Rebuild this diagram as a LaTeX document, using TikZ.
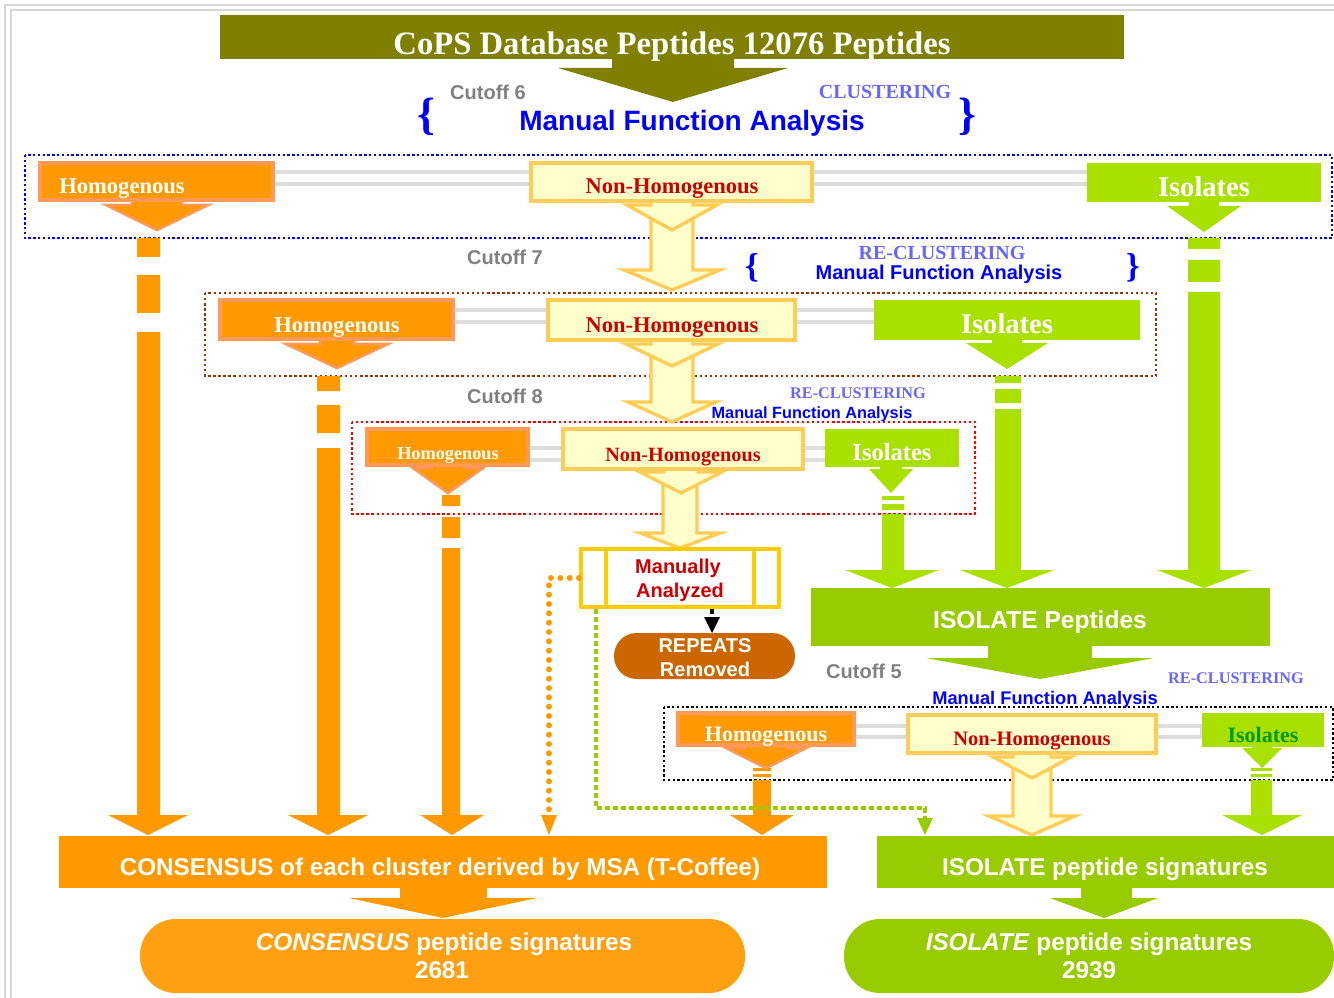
\documentclass[tikz,border=0pt]{standalone}
\usepackage{fontspec}
\setmainfont{Liberation Serif}
\setsansfont{Liberation Sans}
\usetikzlibrary{fit,arrows.meta}
\definecolor{oliveT}{HTML}{808000}
\definecolor{orangeF}{HTML}{FF9900}
\definecolor{orangeP}{HTML}{FFA012}
\definecolor{salmonB}{HTML}{FF9955}
\definecolor{nhFill}{HTML}{FFFFCC}
\definecolor{nhBorder}{HTML}{FFCC55}
\definecolor{nhRed}{HTML}{CC0000}
\definecolor{isoG}{HTML}{AAE000}
\definecolor{isoD}{HTML}{99CC00}
\definecolor{isoText}{HTML}{009900}
\definecolor{cutGray}{HTML}{808080}
\definecolor{reBlue}{HTML}{6666FF}
\definecolor{mfBlue}{HTML}{0000FF}
\definecolor{connGray}{HTML}{DDDDDD}
\definecolor{repBrown}{HTML}{CC6600}
\definecolor{manBorder}{HTML}{FFCC00}
\definecolor{brownDot}{HTML}{993300}
\definecolor{frameGray}{HTML}{D6D6D6}
\newcommand\fs[1]{\fontsize{#1}{#1}\selectfont}
% block arrow: style, xc, ytop, halfshaft, yhead, halfhead, ytip
\newcommand\barrow[7]{\path[#1] ({#2-#4},#3) -- ({#2-#4},#5) -- ({#2-#6},#5) -- (#2,#7) -- ({#2+#6},#5) -- ({#2+#4},#5) -- ({#2+#4},#3) -- cycle;}
% arrow head: style, xc, halfwidth, ybase, ytip
\newcommand\ahead[5]{\path[#1] ({#2-#3},#4) -- ({#2+#3},#4) -- (#2,#5) -- cycle;}
\tikzset{
 obox/.style={fill=orangeF, draw=salmonB, line width=2.5pt, inner sep=0pt},
 nbox/.style={fill=nhFill, draw=nhBorder, line width=3pt, inner sep=0pt},
 ibox/.style={fill=isoG, inner sep=0pt},
 conn/.style={fill=white, draw=connGray, line width=2.5pt},
 oarr/.style={fill=orangeF, draw=salmonB, line width=2pt},
 narr/.style={fill=nhFill, draw=nhBorder, line width=2.5pt},
 iarr/.style={fill=isoG},
 ofill/.style={fill=orangeF},
 lab/.style={inner sep=0pt, anchor=base},
 serw/.style={lab, text=white},
 serr/.style={lab, text=nhRed},
 sanw/.style={lab, text=white},
 cutlab/.style={lab, text=cutGray, font=\sffamily\bfseries\fs{15}},
 relab/.style={lab, text=reBlue},
 mflab/.style={lab, text=mfBlue},
 brace/.style={text=mfBlue, font=\rmfamily\bfseries\fs{34}, inner sep=0pt},
 odot/.style={draw=orangeF, line width=4.5pt, line cap=round, dash pattern=on 0pt off 7pt},
 gdot/.style={draw=isoD, line width=3pt, dash pattern=on 3.5pt off 2.5pt},
}
\begin{document}
\begin{tikzpicture}[x=0.75pt,y=-0.75pt]
\useasboundingbox (0,0) rectangle (1334,998);
% frame
\draw[frameGray, line width=1pt] (5,998) -- (5,5) -- (1334,5);
\draw[frameGray, line width=1pt] (11,998) -- (11,10) -- (1334,10);

% ---------- title ----------
\node[fill=oliveT, inner sep=0pt, fit={(220,15) (1124,59)}] (title) {};
\path[fill=oliveT] (612,58) rectangle (734,69);
\ahead{fill=oliveT}{673}{115}{68}{102}
\node[serw, font=\rmfamily\bfseries\fs{24.5}] (titletxt) at (672,55) {CoPS Database Peptides 12076 Peptides};

\node[cutlab] (cut6) at (488,100) {Cutoff 6};
\node[relab, font=\rmfamily\bfseries\fs{15}] (clu) at (885,99) {CLUSTERING};
\node[mflab, font=\sffamily\bfseries\fs{21}] (mfa1) at (692,131) {Manual Function Analysis};
\node[brace] (br1l) at (426,117) {\{};
\node[brace] (br1r) at (967,117) {\}};

% ---------- dotted frames ----------
\draw[mfBlue, line width=1.8pt, dash pattern=on 1.8pt off 1.8pt] (25,155) rectangle (1332,238);
\draw[brownDot, line width=1.8pt, dash pattern=on 1.8pt off 2pt] (205,293) rectangle (1156,376);
\draw[red, line width=1.8pt, dash pattern=on 1.8pt off 2pt] (352,422) rectangle (975,514);
\draw[black, line width=1.8pt, dash pattern=on 1.8pt off 1.8pt] (664,707) rectangle (1333,780);

% ---------- vertical bars ----------
\path[ofill] (137,238) rectangle (160,257) (137,275) rectangle (160,313) (137,332) rectangle (160,816);
\ahead{ofill}{148}{40}{815}{835}
\path[ofill] (317,376) rectangle (340,391) (317,405) rectangle (340,433) (317,448) rectangle (340,816);
\ahead{ofill}{328}{40}{815}{835}
\path[ofill] (442,495) rectangle (460,506) (442,517) rectangle (460,538) (442,548) rectangle (460,816);
\ahead{ofill}{452}{32}{815}{835}
\path[ofill] (753,768) rectangle (771,771) (753,774) rectangle (771,777) (753,780) rectangle (771,816);
\ahead{ofill}{762}{32}{815}{835}
\path[iarr] (1188,238) rectangle (1220,249) (1188,260) rectangle (1220,282) (1188,292) rectangle (1220,571);
\ahead{iarr}{1204}{47}{570}{588}
\path[iarr] (995,376) rectangle (1021,383) (995,389) rectangle (1021,403) (995,409) rectangle (1021,571);
\ahead{iarr}{1007}{47}{570}{588}
\path[iarr] (882,496) rectangle (904,500) (882,504) rectangle (904,510) (882,514) rectangle (904,571);
\ahead{iarr}{892}{47}{570}{588}
\path[iarr] (1251,768) rectangle (1272,771) (1251,774) rectangle (1272,777) (1251,780) rectangle (1272,816);
\ahead{iarr}{1262}{40}{815}{835}

% ---------- non-homogenous hollow arrows ----------
\barrow{narr}{672}{201}{21}{270}{48}{290}
\barrow{narr}{672}{199}{21}{205}{45}{230}
\barrow{narr}{672}{340}{21}{402}{44}{422}
\barrow{narr}{672}{338}{21}{344}{46}{366}
\barrow{narr}{680}{469}{17}{533}{40}{548}
\barrow{narr}{681}{467}{17}{472}{41}{493}
\barrow{narr}{1032}{753}{19}{816}{43}{835}
\barrow{narr}{1032}{751}{19}{757}{39}{778}

% ---------- short arrows below boxes ----------
\barrow{oarr}{157}{198}{25}{205}{51}{230}
\barrow{oarr}{337}{337}{17}{344}{51}{368}
\barrow{oarr}{448}{463}{16}{468}{35}{493}
\barrow{oarr}{766}{743}{20}{748}{40}{768}
\barrow{iarr}{1204}{200}{15}{206}{37}{232}
\barrow{iarr}{1007}{338}{15}{343}{41}{369}
\barrow{iarr}{891}{465}{11}{469}{22}{493}
\barrow{iarr}{1262}{745}{10}{748}{20}{768}

% ---------- connectors between boxes ----------
\path[conn] (273,172) rectangle (531,184);
\path[conn] (812,172) rectangle (1090,184);
\path[conn] (453,310) rectangle (548,322);
\path[conn] (795,310) rectangle (876,322);
\path[conn] (528,448) rectangle (565,460);
\path[conn] (803,448) rectangle (828,460);
\path[conn] (854,726) rectangle (908,737);
\path[conn] (1156,726) rectangle (1202,737);

% ---------- level 1 ----------
\node[obox, fit={(40,163) (273,200)}] (h1) {};
\node[serw, font=\rmfamily\bfseries\fs{16.9}] (h1t) at (122,194) {Homogenous};
\node[nbox, fit={(531,163) (812,201)}] (nh1) {};
\node[serr, font=\rmfamily\bfseries\fs{16.9}] (nh1t) at (672,194) {Non-Homogenous};
\node[ibox, fit={(1087,163) (1321,202)}] (i1) {};
\node[serw, font=\rmfamily\bfseries\fs{21.4}] (i1t) at (1204,197) {Isolates};

% ---------- level 2 labels ----------
\node[cutlab] (cut7) at (505,265) {Cutoff 7};
\node[relab, font=\rmfamily\bfseries\fs{15}] (re2) at (942,260) {RE-CLUSTERING};
\node[mflab, font=\sffamily\bfseries\fs{15}] (mfa2) at (939,280) {Manual Function Analysis};
\node[brace, font=\rmfamily\bfseries\fs{26}] (br2l) at (752,268) {\{};
\node[brace, font=\rmfamily\bfseries\fs{26}] (br2r) at (1133,268) {\}};

% ---------- level 2 ----------
\node[obox, fit={(220,300) (453,339)}] (h2) {};
\node[serw, font=\rmfamily\bfseries\fs{16.9}] (h2t) at (337,333) {Homogenous};
\node[nbox, fit={(548,300) (795,340)}] (nh2) {};
\node[serr, font=\rmfamily\bfseries\fs{16.9}] (nh2t) at (672,333) {Non-Homogenous};
\node[ibox, fit={(874,300) (1140,340)}] (i2) {};
\node[serw, font=\rmfamily\bfseries\fs{21.4}] (i2t) at (1007,334) {Isolates};

% ---------- level 3 labels ----------
\node[cutlab] (cut8) at (505,403) {Cutoff 8};
\node[relab, font=\rmfamily\bfseries\fs{12.2}] (re3) at (858,398) {RE-CLUSTERING};
\node[mflab, font=\sffamily\bfseries\fs{12.2}] (mfa3) at (812,418) {Manual Function Analysis};

% ---------- level 3 ----------
\node[obox, fit={(367,429) (528,465)}] (h3) {};
\node[serw, font=\rmfamily\bfseries\fs{13.7}] (h3t) at (448,459) {Homogenous};
\node[nbox, fit={(563,429) (803,469)}] (nh3) {};
\node[serr, font=\rmfamily\bfseries\fs{15.2}] (nh3t) at (683,461) {Non-Homogenous};
\node[ibox, fit={(825,429) (959,467)}] (i3) {};
\node[serw, font=\rmfamily\bfseries\fs{18.4}] (i3t) at (892,460) {Isolates};

% ---------- manually analysed ----------
\node[fill=white, draw=manBorder, line width=3pt, inner sep=0pt, fit={(581,549) (779,607)}] (man) {};
\draw[manBorder, line width=3pt] (606,549) -- (606,607) (754,549) -- (754,607);
\node[lab, text=nhRed, font=\sffamily\bfseries\fs{15}] (mant1) at (678,573) {Manually};
\node[lab, text=nhRed, font=\sffamily\bfseries\fs{15}] (mant2) at (680,597) {Analyzed};
\node[fill=repBrown, rounded corners=17pt, inner sep=0pt, fit={(614,633) (795,679)}] (rep) {};
\node[sanw, font=\sffamily\bfseries\fs{15}] (rept1) at (705,652) {REPEATS};
\node[sanw, font=\sffamily\bfseries\fs{15}] (rept2) at (705,676) {Removed};
\draw[black, line width=3pt, dash pattern=on 4pt off 3pt] ([xshift=24pt]man.south) -- ++(0,10);
\path[fill=black] (704,617) -- (720,617) -- (712,633) -- cycle;

% ---------- isolate peptides ----------
\node[fill=isoD, inner sep=0pt, fit={(811,588) (1270,646)}] (isop) {};
\node[sanw, font=\sffamily\bfseries\fs{18.4}] (isopt) at (1040,628) {ISOLATE Peptides};
\path[fill=isoD] (988,645) rectangle (1092,659);
\ahead{fill=isoD}{1040}{114}{658}{679}
\node[cutlab] (cut5) at (864,678) {Cutoff 5};
\node[relab, font=\rmfamily\bfseries\fs{12.2}] (re4) at (1236,683) {RE-CLUSTERING};
\node[mflab, font=\sffamily\bfseries\fs{13.7}] (mfa4) at (1045,704) {Manual Function Analysis};

% ---------- level 4 ----------
\node[obox, fit={(678,713) (854,745)}] (h4) {};
\node[serw, font=\rmfamily\bfseries\fs{16.5}] (h4t) at (766,741) {Homogenous};
\node[nbox, fit={(908,715) (1156,753)}] (nh4) {};
\node[serr, font=\rmfamily\bfseries\fs{15.4}] (nh4t) at (1032,745) {Non-Homogenous};
\node[ibox, fit={(1202,713) (1324,747)}] (i4) {};
\node[lab, text=isoText, font=\rmfamily\bfseries\fs{16.5}] (i4t) at (1263,742) {Isolates};

% ---------- bottom boxes ----------
\node[fill=orangeF, inner sep=0pt, fit={(59,836) (827,888)}] (cons) {};
\node[sanw, font=\sffamily\bfseries\fs{18.2}] (const) at (440,875) {CONSENSUS of each cluster derived by MSA (T-Coffee)};
\path[fill=orangeF] (400,887) rectangle (487,899);
\ahead{fill=orangeF}{443}{94}{898}{918}
\node[fill=orangeP, rounded corners=27pt, inner sep=0pt, fit={(140,919) (745,993)}] (consp) {};
\node[sanw, font=\sffamily\bfseries\fs{18.2}] (conspt1) at (444,950) {\textit{CONSENSUS} peptide signatures};
\node[sanw, font=\sffamily\bfseries\fs{18.2}] (conspt2) at (442,978) {2681};

\node[fill=isoD, inner sep=0pt, fit={(877,836) (1334,888)}] (isos) {};
\node[sanw, font=\sffamily\bfseries\fs{18.2}] (isost) at (1105,875) {ISOLATE peptide signatures};
\path[fill=isoD] (1081,887) rectangle (1132,899);
\ahead{fill=isoD}{1104}{54}{898}{918}
\node[fill=isoD, rounded corners=27pt, inner sep=0pt, fit={(844,919) (1334,993)}] (isosp) {};
\node[sanw, font=\sffamily\bfseries\fs{18.2}] (isospt1) at (1089,950) {\textit{ISOLATE} peptide signatures};
\node[sanw, font=\sffamily\bfseries\fs{18.2}] (isospt2) at (1089,978) {2939};

% ---------- dotted connectors ----------
\coordinate (oend) at (549,812);
\draw[odot] (man.west) -| (oend);
\path[fill=orangeF] (541,815) -- (557,815) -- (549,835) -- cycle;
\coordinate (gend) at (925,818);
\draw[gdot] ([xshift=12.75pt]man.south west) |- (gend |- 0,808) -- (gend);
\path[fill=isoD] (917,818) -- (933,818) -- (925,835) -- cycle;
\end{tikzpicture}
\end{document}
